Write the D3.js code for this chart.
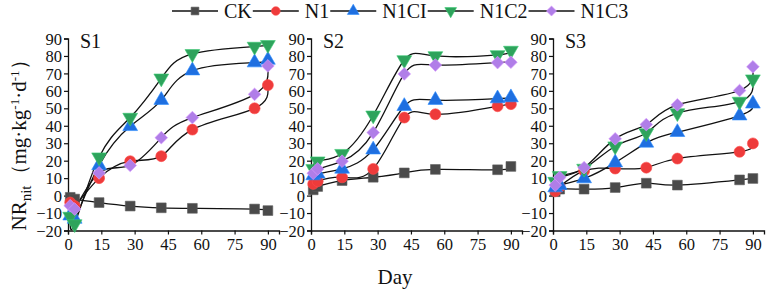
<!DOCTYPE html>
<html>
<head>
<meta charset="utf-8">
<script src="https://cdn.jsdelivr.net/npm/d3@7"></script>
<style>
  body { margin: 0; background: #fff; }
  text { font-family: "Liberation Serif", "DejaVu Serif", serif; fill: #111; }
</style>
</head>
<body>
<svg id="chart" width="767" height="292"></svg>
<script>
// sampling days
const days = [1, 3, 14, 28, 42, 56, 84, 90];
const seriesNames = ["CK", "N1", "N1CI", "N1C2", "N1C3"];
const panels = ["S1", "S2", "S3"];
const xTicks = [0, 15, 30, 45, 60, 75, 90];
const yTicks = [-20, -10, 0, 10, 20, 30, 40, 50, 60, 70, 80, 90];

// S1
const s1CK   = [-1, -2, -4, -6, -7, -7.3, -7.7, -8.6];
const s1N1   = [-4, -6, 10, 19.7, 22.6, 37.8, 50, 63.3];
const s1N1CI = [-11.5, -13.4, 17.3, 39.7, 54.7, 71.6, 76.2, 77.7];
const s1N1C2 = [-12, -16.3, 22, 44.7, 67.2, 81.2, 85.4, 86.4];
const s1N1C3 = [-5.8, -7.7, 13, 17.3, 33.2, 44.7, 58, 74.3];
// S2
const s2CK   = [3.3, 5.2, 8.6, 10.5, 13, 15, 14.8, 16.7];
const s2N1   = [6.7, 8.2, 10.5, 15.3, 44.7, 46.6, 51.2, 52.4];
const s2N1CI = [11.5, 12.5, 15.3, 26.3, 51.2, 54.7, 55.6, 56.2];
const s2N1C2 = [15.3, 19.7, 24, 46, 77.7, 80, 80.6, 83.1];
const s2N1C3 = [12.8, 15.3, 19.7, 36.1, 69.7, 74.8, 76.2, 76.4];
// S3
const s3CK   = [2.2, 3.7, 3.7, 4.6, 7.1, 6, 9, 9.8];
const s3N1   = [2.5, 5, 14.1, 15.5, 16, 21.2, 25.1, 29.9];
const s3N1CI = [4.6, 6, 9.8, 18.9, 30.2, 36.3, 45.8, 52.6];
const s3N1C2 = [8, 11.3, 15.5, 28.3, 35.9, 47.3, 53.9, 66.7];
const s3N1C3 = [6, 10.4, 16, 32.5, 40.7, 52, 60.2, 73.8];

const panelData = [
  [s1CK, s1N1, s1N1CI, s1N1C2, s1N1C3],
  [s2CK, s2N1, s2N1CI, s2N1C2, s2N1C3],
  [s3CK, s3N1, s3N1CI, s3N1C2, s3N1C3]
];

const colors = ["#4a4a4a", "#ee3b3b", "#1f6fe0", "#2ea35c", "#b07ee8"];
const symbols = [
  d3.symbolSquare,
  d3.symbolCircle,
  d3.symbolTriangle,
  d3.symbolTriangle,   // rotated -> down
  d3.symbolSquare      // rotated 45 -> diamond
];
const rotations = [0, 0, 0, 180, 45];
const sizeScale = [1, 1, 1, 1, 0.85];

const svg = d3.select("#chart");

// panel frames (left edge of y axis)
const panelLeft = [68, 311, 553];
const panelW = 211;
const yTop = 38.5, yBottom = 230.5;

const y = d3.scaleLinear().domain([-20, 90]).range([yBottom, yTop]);

function marker(g, i, size) {
  return g.append("path")
    .attr("d", d3.symbol().type(symbols[i]).size(size * sizeScale[i]))
    .attr("fill", colors[i])
    .attr("stroke", d3.color(colors[i]).brighter(0.6))
    .attr("stroke-width", 0.6);
}

panels.forEach((name, p) => {
  const x = d3.scaleLinear().domain([0, 95]).range([panelLeft[p], panelLeft[p] + panelW]);
  const g = svg.append("g");

  // axes
  const yAx = g.append("g")
    .attr("transform", `translate(${panelLeft[p]},0)`)
    .call(d3.axisLeft(y).tickValues(yTicks).tickSize(4).tickPadding(2));
  yAx.selectAll("text").style("font-size", "16.5px").attr("dy", "0.34em");

  const xAx = g.append("g")
    .attr("transform", `translate(0,${yBottom})`)
    .call(d3.axisBottom(x).tickValues(xTicks).tickSize(4).tickPadding(4));
  xAx.selectAll("text").style("font-size", "16.5px");
  g.selectAll(".domain").attr("stroke", "#111").attr("stroke-width", 1.3);
  g.selectAll(".tick line").attr("stroke", "#111").attr("stroke-width", 1.2);

  // panel label
  g.append("text")
    .attr("x", panelLeft[p] + 12)
    .attr("y", 48)
    .style("font-size", "20px")
    .text(name);

  const line = d3.line()
    .x((d, k) => x(days[k]))
    .y(d => y(d))
    .curve(d3.curveNatural);

  panelData[p].forEach((vals, i) => {
    g.append("path")
      .datum(vals)
      .attr("d", line)
      .attr("fill", "none")
      .attr("stroke", "#111")
      .attr("stroke-width", 1.3);
  });

  panelData[p].forEach((vals, i) => {
    vals.forEach((v, k) => {
      marker(g, i, 95)
        .attr("transform", `translate(${x(days[k])},${y(v)}) rotate(${rotations[i]})`);
    });
  });
});

// legend
const leg = svg.append("g");
let lx = 172;
const ly = 11;
seriesNames.forEach((s, i) => {
  leg.append("line")
    .attr("x1", lx).attr("x2", lx + 46)
    .attr("y1", ly).attr("y2", ly)
    .attr("stroke", "#111").attr("stroke-width", 1.3);
  marker(leg, i, 60)
    .attr("transform", `translate(${lx + 23},${ly}) rotate(${rotations[i]})`);
  const t = leg.append("text")
    .attr("x", lx + 52)
    .attr("y", ly + 7)
    .style("font-size", "20px")
    .text(s);
  lx = lx + 52 + t.node().getComputedTextLength() + 1;
});

// y axis label
const yl = svg.append("text")
  .attr("transform", "translate(26,140) rotate(-90)")
  .attr("text-anchor", "middle")
  .style("font-size", "21px");
yl.append("tspan").text("NR");
yl.append("tspan").attr("dy", 5).style("font-size", "15px").text("nit");
yl.append("tspan").attr("dy", -5).text("（mg·kg");
yl.append("tspan").attr("dy", -7).style("font-size", "13px").text("-1");
yl.append("tspan").attr("dy", 7).text("·d");
yl.append("tspan").attr("dy", -7).style("font-size", "13px").text("-1");
yl.append("tspan").attr("dy", 7).text("）");

// x axis label
svg.append("text")
  .attr("x", 395)
  .attr("y", 284)
  .attr("text-anchor", "middle")
  .style("font-size", "21px")
  .text("Day");
</script>
</body>
</html>
